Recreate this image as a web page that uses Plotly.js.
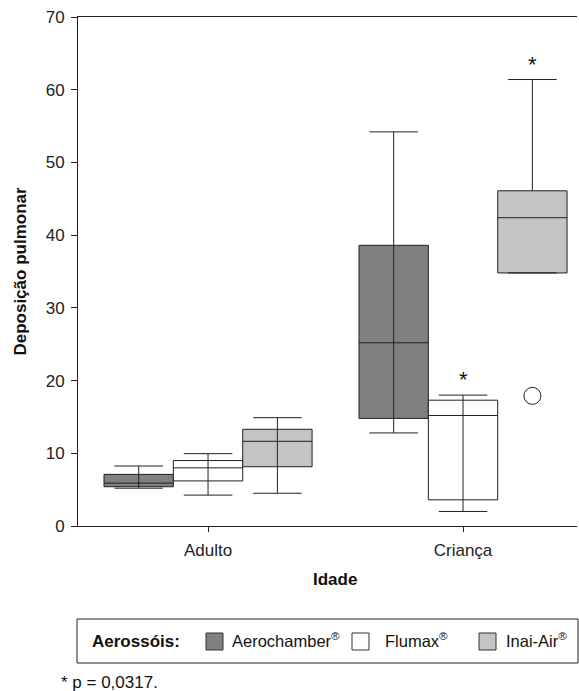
<!DOCTYPE html>
<html>
<head>
<meta charset="utf-8">
<script src="https://cdn.plot.ly/plotly-3.0.1.min.js"></script>
<style>html,body{margin:0;padding:0;background:#fff;}#chart{width:579px;height:691px;}</style>
</head>
<body>
<div id="chart"></div>
<script>
// ---- data ----
const categories = ['Adulto', 'Criança'];
const seriesNames = ['Aerochamber', 'Flumax', 'Inai-Air'];
// per series: [Adulto, Criança]
const lowerfence = { 'Aerochamber': [5.2, 12.8], 'Flumax': [4.25, 2.0], 'Inai-Air': [4.5, 34.8] };
const q1         = { 'Aerochamber': [5.4, 14.8], 'Flumax': [6.2, 3.6], 'Inai-Air': [8.15, 34.8] };
const median     = { 'Aerochamber': [5.9, 25.2], 'Flumax': [8.0, 15.2], 'Inai-Air': [11.65, 42.4] };
const q3         = { 'Aerochamber': [7.1, 38.6], 'Flumax': [9.0, 17.3], 'Inai-Air': [13.3, 46.1] };
const upperfence = { 'Aerochamber': [8.25, 54.2], 'Flumax': [9.95, 18.0], 'Inai-Air': [14.9, 61.4] };
// outliers: series, category index, value
const outlierSeries = ['Inai-Air'];
const outlierCat = [1];
const outlierValue = [17.9];
// significance marks (*): series, category index
const starSeries = ['Flumax', 'Inai-Air'];
const starCat = [1, 1];
const yTicks = [0, 10, 20, 30, 40, 50, 60, 70];
const xTitle = 'Idade';
const yTitle = 'Deposição pulmonar';
const footnote = '* p = 0,0317.';
const legendTitle = 'Aerossóis:';

// ---- styles ----
const fills = { 'Aerochamber': '#808080', 'Flumax': '#ffffff', 'Inai-Air': '#c4c4c4' };
const lineCol = '#231f20';
const boxW = 0.272;
const offsets = { 'Aerochamber': -boxW, 'Flumax': 0, 'Inai-Air': boxW };
const FONT = 'Liberation Sans, Arial, Helvetica, sans-serif';
const FS = 17;
const LFS = 16.5;
const noThroughLine = { 'Inai-Air|1': true };

const traces = [];
const thrX = [], thrY = [];
seriesNames.forEach(s => {
  const xs = categories.map((c, i) => i + offsets[s]);
  traces.push({
    type: 'box', name: s, x: xs,
    q1: q1[s], median: median[s], q3: q3[s],
    lowerfence: lowerfence[s], upperfence: upperfence[s],
    width: boxW, whiskerwidth: 0.7, boxpoints: false,
    fillcolor: fills[s], line: { color: lineCol, width: 1 },
    showlegend: false, hoverinfo: 'skip'
  });
  categories.forEach((c, i) => {
    if (noThroughLine[s + '|' + i]) return;
    thrX.push(xs[i], xs[i], null);
    thrY.push(q1[s][i], q3[s][i], null);
  });
});
traces.push({
  type: 'scatter', mode: 'lines', x: thrX, y: thrY,
  line: { color: lineCol, width: 1 }, showlegend: false, hoverinfo: 'skip'
});
traces.push({
  type: 'scatter', mode: 'markers',
  x: outlierSeries.map((s, k) => outlierCat[k] + offsets[s]),
  y: outlierValue,
  marker: { symbol: 'circle', size: 17, color: '#ffffff', line: { color: lineCol, width: 1 } },
  showlegend: false, hoverinfo: 'skip'
});

const annotations = starSeries.map((s, k) => ({
  x: starCat[k] + offsets[s], y: upperfence[s][starCat[k]],
  xref: 'x', yref: 'y', text: '*', showarrow: false,
  yanchor: 'bottom', yshift: 1, font: { family: FONT, size: 22, color: '#111' }
}));

// x-axis title (slightly right of the plot centre, as in the reference)
annotations.push({
  xref: 'paper', yref: 'paper', x: 0.5, y: 0, xanchor: 'center', yanchor: 'middle',
  xshift: 7, yshift: -53, text: '<b>' + xTitle + '</b>', showarrow: false,
  font: { family: FONT, size: FS, color: '#111' }
});

// manual legend
const shapes = [
  { type: 'rect', xref: 'paper', yref: 'paper', xsizemode: 'pixel', ysizemode: 'pixel',
    xanchor: 0, yanchor: 0, x0: -1, x1: 500, y0: -93, y1: -137,
    line: { color: lineCol, width: 1 }, fillcolor: 'rgba(0,0,0,0)' }
];
annotations.push({
  xref: 'paper', yref: 'paper', x: 0, y: 0, xanchor: 'left', yanchor: 'middle',
  xshift: 12, yshift: -115, text: '<b>' + legendTitle + '</b>', showarrow: false,
  font: { family: FONT, size: FS, color: '#111' }
});
const legSq = [128, 274, 401];
const legTx = [152, 305, 426];
seriesNames.forEach((s, k) => {
  shapes.push({
    type: 'rect', xref: 'paper', yref: 'paper', xsizemode: 'pixel', ysizemode: 'pixel',
    xanchor: 0, yanchor: 0, x0: legSq[k], x1: legSq[k] + 17, y0: -107, y1: -124,
    line: { color: '#333', width: 1 }, fillcolor: fills[s]
  });
  annotations.push({
    xref: 'paper', yref: 'paper', x: 0, y: 0, xanchor: 'left', yanchor: 'middle',
    xshift: legTx[k], yshift: -114, text: s + '<sup>®</sup>', showarrow: false,
    font: { family: FONT, size: LFS, color: '#111' }
  });
});
annotations.push({
  xref: 'paper', yref: 'paper', x: 0, y: 0, xanchor: 'left', yanchor: 'middle',
  xshift: -19, yshift: -156, text: footnote, showarrow: false,
  font: { family: FONT, size: FS, color: '#111' }
});

const layout = {
  width: 579, height: 691,
  margin: { l: 78, r: 2, t: 17, b: 165 },
  paper_bgcolor: '#fff', plot_bgcolor: '#fff',
  font: { family: FONT, size: FS, color: '#222' },
  showlegend: false,
  xaxis: {
    range: [-0.51, 1.447], tickvals: categories.map((c, i) => i), ticktext: categories,
    ticks: 'outside', ticklen: 5, tickcolor: lineCol, showline: true, linecolor: lineCol,
    mirror: true, showgrid: false, zeroline: false, ticklabelstandoff: 4,
    tickfont: { family: FONT, size: FS, color: '#222' }
  },
  yaxis: {
    range: [0, 70], tickvals: yTicks, ticks: 'outside', ticklen: 6, tickcolor: lineCol,
    showline: true, linecolor: lineCol, showgrid: false, zeroline: false, ticklabelstandoff: 3,
    title: { text: '<b>' + yTitle + '</b>', standoff: 14, font: { family: FONT, size: FS, color: '#111' } },
    tickfont: { family: FONT, size: FS, color: '#222' }
  },
  annotations: annotations,
  shapes: shapes
};

Plotly.newPlot('chart', traces, layout, { displayModeBar: false, staticPlot: true });
</script>
</body>
</html>
